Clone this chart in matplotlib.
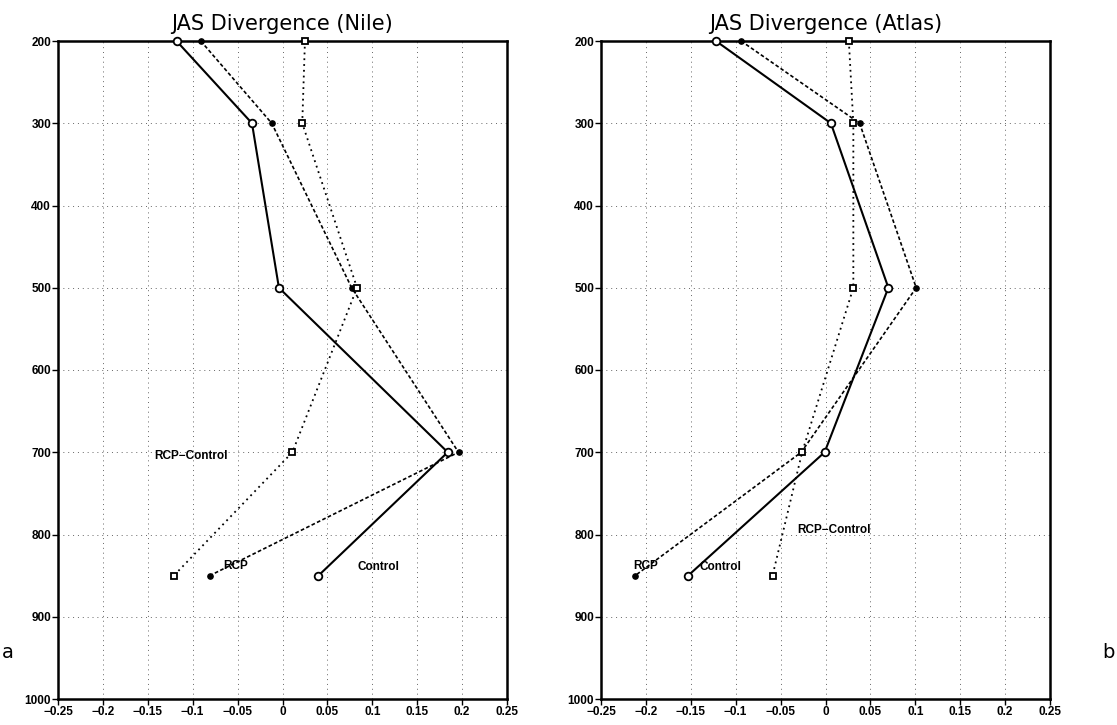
import matplotlib
matplotlib.use("Agg")
import matplotlib.pyplot as plt

# Pressure levels (hPa)
levels = [200, 300, 500, 700, 850]

# Nile region divergence
nile_control = [-0.118, -0.034, -0.004, 0.184, 0.040]
nile_rcp = [-0.091, -0.012, 0.077, 0.196, -0.081]
nile_diff = [0.025, 0.022, 0.083, 0.011, -0.121]

# Atlas region divergence
atlas_control = [-0.122, 0.006, 0.070, -0.001, -0.153]
atlas_rcp = [-0.094, 0.038, 0.101, -0.027, -0.212]
atlas_diff = [0.026, 0.031, 0.031, -0.026, -0.059]

x_ticks = [-0.25, -0.2, -0.15, -0.1, -0.05, 0, 0.05, 0.1, 0.15, 0.2, 0.25]
x_tick_labels = ["\u22120.25", "\u22120.2", "\u22120.15", "\u22120.1", "\u22120.05",
                 "0", "0.05", "0.1", "0.15", "0.2", "0.25"]
y_ticks = [200, 300, 400, 500, 600, 700, 800, 900, 1000]

titles = ["JAS Divergence (Nile)", "JAS Divergence (Atlas)"]
panel_letters = ["a", "b"]

# label positions (x, pressure) for each panel
label_pos = [
    {"RCP\u2212Control": (-0.102, 704), "RCP": (-0.052, 838), "Control": (0.107, 839)},
    {"RCP\u2212Control": (0.010, 795), "RCP": (-0.200, 838), "Control": (-0.117, 839)},
]

W, H = 1117, 725
fig = plt.figure(figsize=(W / 100, H / 100), dpi=100)

axes_rects = [
    [58 / W, 1 - 699 / H, (507 - 58) / W, (699 - 41) / H],
    [601 / W, 1 - 699 / H, (1050 - 601) / W, (699 - 41) / H],
]

data = [(nile_control, nile_rcp, nile_diff), (atlas_control, atlas_rcp, atlas_diff)]

tick_font = dict(family="Liberation Sans", weight="bold", size=8.5)

for i, rect in enumerate(axes_rects):
    ax = fig.add_axes(rect)
    control, rcp, diff = data[i]

    ax.set_xlim(-0.25, 0.25)
    ax.set_ylim(1000, 200)

    ax.set_xticks(x_ticks)
    ax.set_xticklabels(x_tick_labels, fontdict=tick_font)
    ax.set_yticks(y_ticks)
    ax.set_yticklabels([str(v) for v in y_ticks], fontdict=tick_font)
    ax.tick_params(direction="out", length=4, width=1, pad=1, colors="black")

    ax.grid(True, linestyle=(0, (1, 4)), color="#666666", linewidth=0.7)
    ax.set_axisbelow(True)

    for sp in ax.spines.values():
        sp.set_linewidth(1.8)
        sp.set_color("black")

    ax.plot(rcp, levels, color="black", linestyle=(0, (2.2, 1.4)), linewidth=1.2,
            marker="o", markersize=3.8, markerfacecolor="black",
            markeredgecolor="black", clip_on=False, zorder=3)
    ax.plot(diff, levels, color="black", linestyle=(0, (1, 2.2)), linewidth=1.3,
            marker="s", markersize=5, markerfacecolor="white",
            markeredgecolor="black", markeredgewidth=1.3, clip_on=False, zorder=4)
    ax.plot(control, levels, color="black", linestyle="-", linewidth=1.5,
            marker="o", markersize=5.5, markerfacecolor="white",
            markeredgecolor="black", markeredgewidth=1.3, clip_on=False, zorder=5)

    for text, (tx, ty) in label_pos[i].items():
        ax.text(tx, ty, text, ha="center", va="center", family="Liberation Sans",
                weight="bold", fontsize=8.5, zorder=6)

    ax.set_title(titles[i], fontsize=15, family="DejaVu Sans", pad=8)

fig.text(8 / W, 1 - 652 / H, panel_letters[0], fontsize=14, ha="center", va="center",
         family="DejaVu Sans")
fig.text(1108 / W, 1 - 652 / H, panel_letters[1], fontsize=14, ha="center", va="center",
         family="DejaVu Sans")

fig.savefig("out.png", dpi=100, facecolor="white")
